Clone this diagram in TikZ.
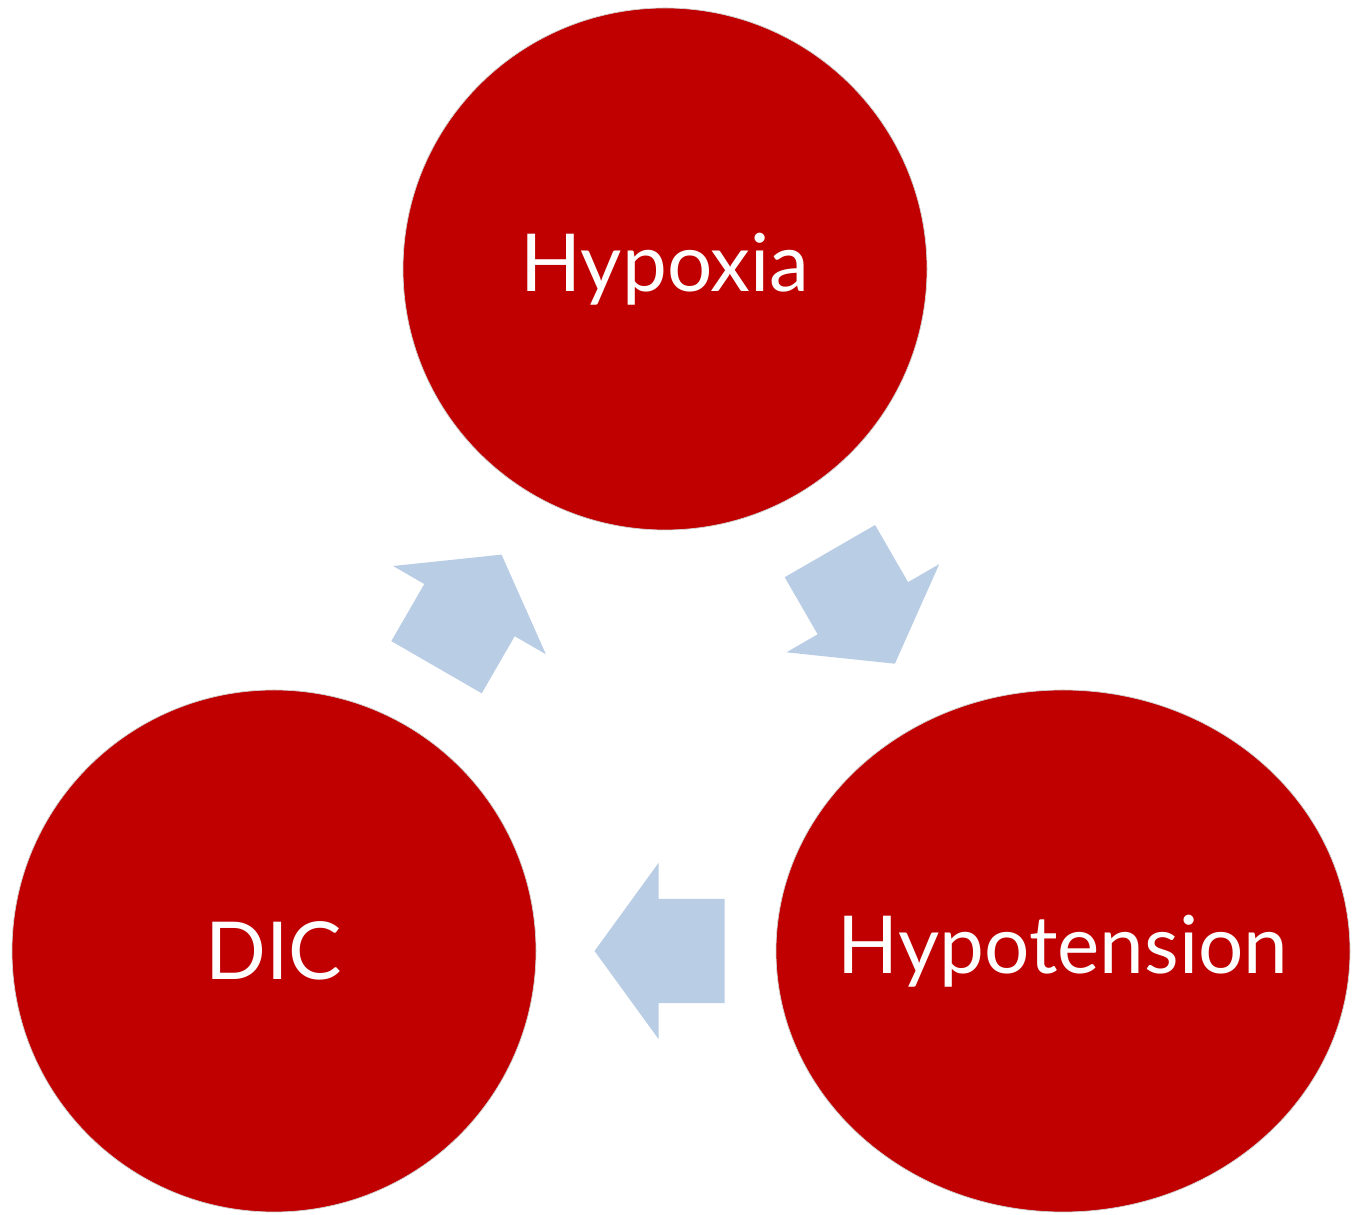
\documentclass[tikz,border=0pt]{standalone}
\usepackage{fontspec}
\setmainfont{Lato}
\usetikzlibrary{calc,shapes.geometric,shapes.arrows}
\definecolor{cyclered}{RGB}{192,0,0}
\definecolor{cycleblue}{RGB}{185,205,229}
\begin{document}
\begin{tikzpicture}[x=1pt,y=1pt,
 stage/.style={ellipse,fill=cyclered,draw=white!82!black,line width=0.7pt,
   inner xsep=-150pt,inner ysep=0pt,minimum width=524pt,minimum height=522pt,
   text=white,font=\fontsize{80}{90}\selectfont},
 flow/.style={single arrow,fill=cycleblue,draw=none,inner xsep=0pt,inner ysep=52pt,
   minimum height=130pt,single arrow head extend=36pt,single arrow tip angle=108,
   single arrow head indent=0pt}]
\useasboundingbox (0,0) rectangle (1355,1215);
\node[stage] (hypoxia) at (665,946) {Hypoxia};
\node[stage] (dic) at (274,264) {DIC};
\node[stage,minimum width=574pt] (hypotension) at (1063,264) {Hypotension};
\node[flow,rotate=60] (up) at ($(dic)!0.5!(hypoxia)!20pt!(dic)$) {};
\node[flow,rotate=-60] (down) at ($(hypoxia)!0.5!(hypotension)!22pt!(hypoxia)$) {};
\node[flow,rotate=180] (back) at ($(hypotension)!0.5!(dic)!10pt!(hypotension)$) {};
\end{tikzpicture}
\end{document}
